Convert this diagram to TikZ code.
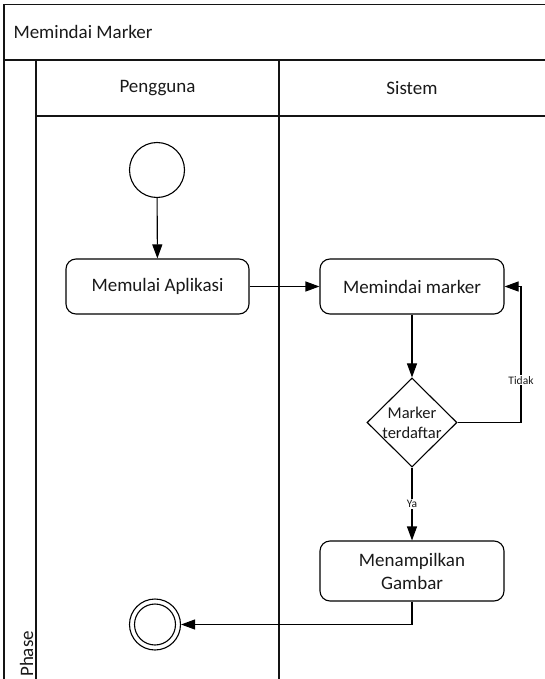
\documentclass[tikz,border=0pt]{standalone}
\usepackage{fontspec}
\setmainfont{Carlito}
\definecolor{laneline}{RGB}{20,20,20}
\definecolor{inktext}{RGB}{25,25,25}
\usetikzlibrary{arrows.meta,positioning,shapes.geometric}

\tikzset{
  lane/.style={draw=laneline,line width=1.6pt},
  actbox/.style={draw,line width=1.1pt,rounded corners=10pt,minimum width=184pt,
                 minimum height=55pt,inner sep=2pt,align=center,text=inktext,
                 font=\fontsize{19}{23}\selectfont},
  decision/.style={draw,line width=1.1pt,diamond,inner sep=0pt,
                   minimum width=90pt,minimum height=89pt},
  flow/.style={draw,line width=1.1pt,-{Triangle[length=14pt,width=10pt]}},
  lbl/.style={fill=white,inner sep=1pt,text=inktext,font=\fontsize{11.5}{13}\selectfont}
}

\begin{document}
\begin{tikzpicture}[x=1pt,y=-1pt]
  \useasboundingbox (0,0) rectangle (545,679);

  % swimlanes
  \draw[lane] (545,4.5) -- (4,4.5) -- (4,679);
  \draw[lane] (4,60) -- (545,60);
  \draw[lane] (36,116) -- (545,116);
  \draw[lane] (36,60) -- (36,679);
  \draw[lane] (279,60) -- (279,679);
  \node[anchor=west,text=inktext,font=\fontsize{19}{23}\selectfont] (title) at (10,32) {Memindai Marker};
  \node[text=inktext,font=\fontsize{19}{23}\selectfont] (user) at (157.5,88) {Pengguna};
  \node[text=inktext,font=\fontsize{19}{23}\selectfont] (system) at (412,88) {Sistem};
  \node[rotate=90,anchor=base west,inner sep=0pt,text=inktext,font=\fontsize{19}{23}\selectfont]
    (phase) at (33,677) {Phase};

  % activities
  \node[draw,line width=1.1pt,circle,minimum size=55pt] (start) at (157,170) {};
  \node[actbox,minimum width=183pt] (launch) at (157.5,286.5) {Memulai Aplikasi};
  \node[actbox] (scan) at (412,286.5) {Memindai marker};
  \node[decision,label={[align=center,text=inktext,font=\fontsize{16.5}{20}\selectfont]center:Marker\\terdaftar}]
    (check) at (412,422.5) {};
  \node[actbox,minimum height=60pt] (show) at (412,571) {Menampilkan\\Gambar};
  \node[draw,line width=1.1pt,circle,minimum size=51pt] (finish) at (155,624.5) {};
  \draw[line width=1.1pt] (finish.center) circle (20.5);
  \coordinate (loop) at (521,422.5);

  % connectors
  \draw[flow] (start) -- (launch);
  \draw[flow] (launch) -- (scan);
  \draw[flow] (scan) -- (check);
  \draw[flow] (check) -- node[lbl]{Ya} (show);
  \draw[flow] (check.east) -- (loop) -- node[lbl,pos=0.31]{Tidak} (loop |- scan.east) -- (scan.east);
  \draw[flow] (show.south) |- (finish.east);
\end{tikzpicture}
\end{document}
